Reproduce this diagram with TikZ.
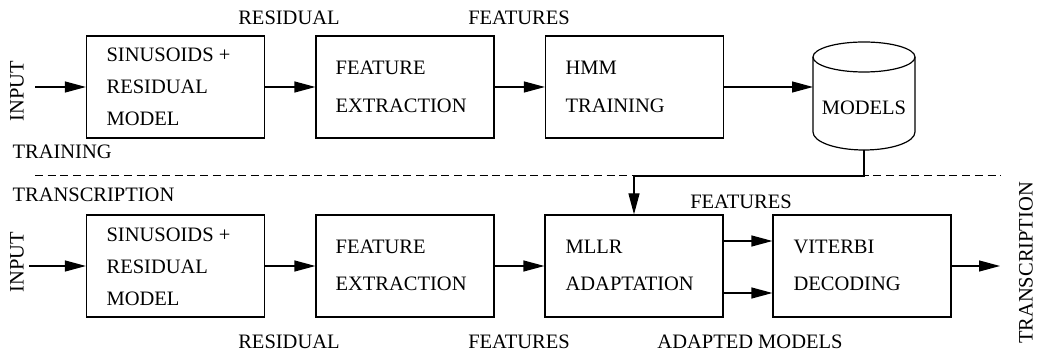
\documentclass[tikz,border=0pt]{standalone}
\usepackage{fontspec}
\setmainfont{Liberation Serif}
\usetikzlibrary{arrows.meta}
\begin{document}
\begin{tikzpicture}[x=1pt,y=-1pt,
  line width=1.2pt,
  every node/.style={font=\fontsize{20.5}{24}\selectfont, inner sep=0pt},
  blk/.style={draw, minimum width=178pt, minimum height=102pt, line width=1.2pt},
  lbl/.style={anchor=west},
  arr/.style={-{Triangle[length=21pt,width=11pt]}}]
\useasboundingbox (0,0) rectangle (1037,352);
% ---------- top row ----------
\node[blk] (b1) at (175.5,87) {};
\node[blk] (b2) at (405,87) {};
\node[blk] (b3) at (634.5,87) {};
\node[lbl] (t1a) at (106,55) {SINUSOIDS +};
\node[lbl] (t1b) at (106,87) {RESIDUAL};
\node[lbl] (t1c) at (106,119) {MODEL};
\node[lbl] (t2a) at (335,68) {FEATURE};
\node[lbl] (t2b) at (335,106) {EXTRACTION};
\node[lbl] (t3a) at (565,68) {HMM};
\node[lbl] (t3b) at (565,106) {TRAINING};
% cylinder
\draw (864,57) ellipse [x radius=51, y radius=15];
\draw (813,57) -- (813,132) .. controls (813,142) and (836,150) .. (864,150)
      .. controls (892,150) and (915,142) .. (915,132) -- (915,57);
\coordinate (cylL) at (813,87);
\coordinate (cylB) at (864,150);
\node (models) at (864,108) {MODELS};
\node[rotate=90] (in1) at (17,91) {INPUT};
\coordinate (in1s) at (35,87);
\node (res1) at (289,17.5) {RESIDUAL};
\node (fea1) at (519,17.5) {FEATURES};
\node[lbl] (train) at (12,152) {TRAINING};
\draw[arr] (in1s) -- (b1.west);
\draw[arr] (b1.east) -- (b2.west);
\draw[arr] (b2.east) -- (b3.west);
\draw[arr] (b3.east) -- (cylL);
% dashed separator
\coordinate (dl) at (35,176);
\coordinate (dr) at (1001,176);
\draw[dashed, dash pattern=on 8pt off 4.7pt, line width=1pt] (dl) -- (dr);
% ---------- bottom row ----------
\node[blk] (c1) at (175.5,266) {};
\node[blk] (c2) at (405,266) {};
\node[blk] (c3) at (634,266) {};
\node[blk] (c4) at (862,266) {};
\node[lbl] (u1a) at (106,235) {SINUSOIDS +};
\node[lbl] (u1b) at (106,267) {RESIDUAL};
\node[lbl] (u1c) at (106,299) {MODEL};
\node[lbl] (u2a) at (335,247) {FEATURE};
\node[lbl] (u2b) at (335,284) {EXTRACTION};
\node[lbl] (u3a) at (565,247) {MLLR};
\node[lbl] (u3b) at (565,284) {ADAPTATION};
\node[lbl] (u4a) at (793,247) {VITERBI};
\node[lbl] (u4b) at (793,284) {DECODING};
\node[lbl] (trans) at (12,195) {TRANSCRIPTION};
\node[rotate=90] (in2) at (17,262) {INPUT};
\coordinate (in2s) at (29,266);
\node (res2) at (289,342) {RESIDUAL};
\node (fea2) at (519,342) {FEATURES};
\node (fea3) at (741,202) {FEATURES};
\node (adm) at (750,342) {ADAPTED MODELS};
\node[rotate=90] (out) at (1026,263) {TRANSCRIPTION};
\coordinate (outE) at (1000,266);
\draw[arr] (in2s) -- (c1.west);
\draw[arr] (c1.east) -- (c2.west);
\draw[arr] (c2.east) -- (c3.west);
\draw[arr] (c3.east |- 0,241) -- (c4.west |- 0,241);
\draw[arr] (c3.east |- 0,293) -- (c4.west |- 0,293);
\draw[arr] (c4.east) -- (outE);
% models to MLLR
\draw[arr] (cylB) -- (864,176) -- (634,176) -- (c3.north);
\end{tikzpicture}
\end{document}
